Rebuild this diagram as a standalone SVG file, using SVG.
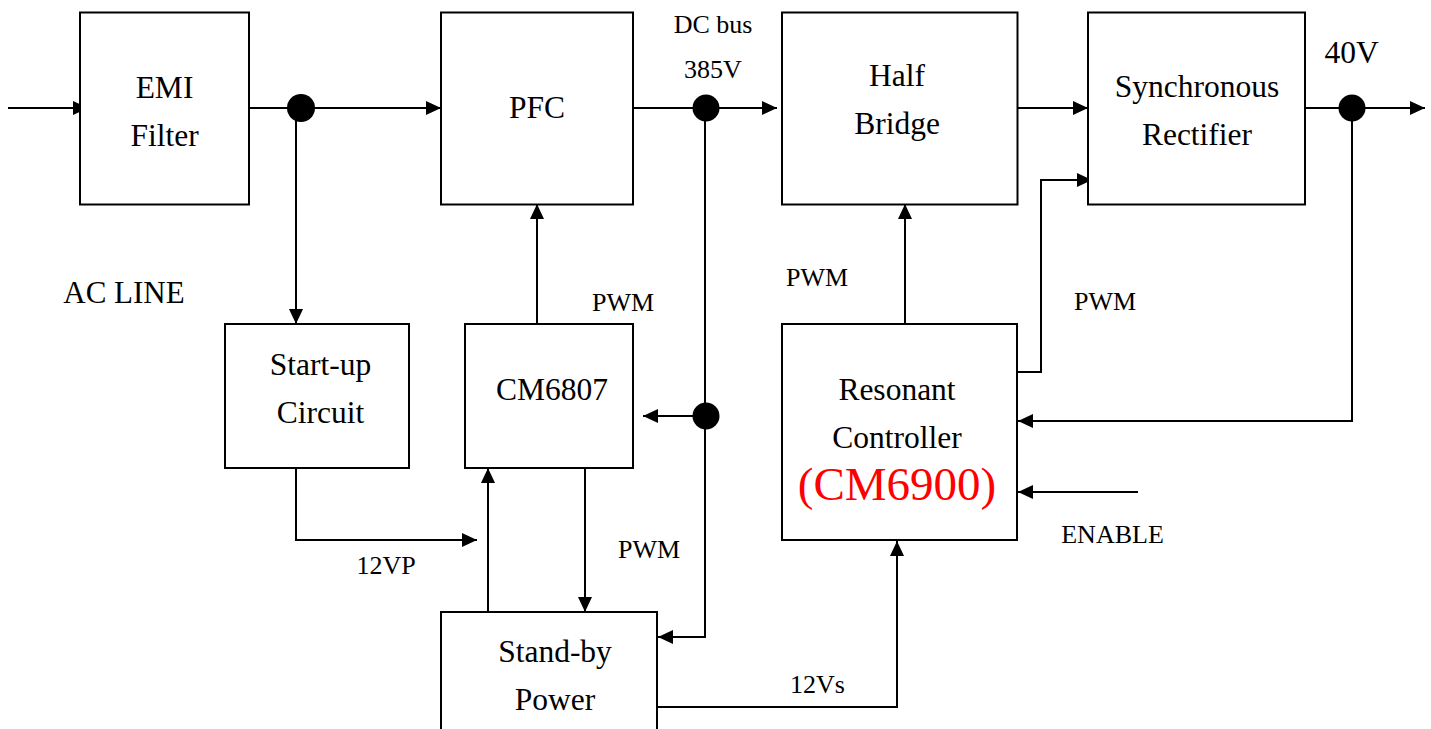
<svg xmlns="http://www.w3.org/2000/svg" width="1431" height="729" viewBox="0 0 1431 729">
<style>
.box{fill:#fff;stroke:#000;stroke-width:2}
.ln{fill:none;stroke:#000;stroke-width:2;marker-end:url(#ah)}
.pl{fill:none;stroke:#000;stroke-width:2}
.t{font-family:"Liberation Serif","Times New Roman",serif;font-size:31.5px;fill:#000;text-anchor:middle}
.s{font-family:"Liberation Serif","Times New Roman",serif;font-size:26px;fill:#000;text-anchor:middle}
.red{font-family:"Liberation Serif","Times New Roman",serif;font-size:47px;fill:#ff0000;text-anchor:middle}
</style>
<defs>
<marker id="ah" markerUnits="userSpaceOnUse" markerWidth="15" markerHeight="14" refX="15" refY="7" orient="auto" viewBox="0 0 15 14">
<path d="M0,0 L15,7 L0,14 z" fill="#000"/>
</marker>
</defs>
<rect width="1431" height="729" fill="#fff"/>
<g id="connectors">
<path class="ln" d="M8,108 H88"/>
<path class="ln" d="M249,108 H441"/>
<path class="ln" d="M296,108 V324"/>
<path class="ln" d="M633,108 H777"/>
<path class="ln" d="M1017,108 H1088"/>
<path class="ln" d="M1305,108 H1425"/>
<path class="ln" d="M1352,108 V421 H1018"/>
<path class="ln" d="M1017,372 H1041 V180 H1092"/>
<path class="ln" d="M905,329 V204"/>
<path class="ln" d="M537,324 V204"/>
<path class="ln" d="M705,108 V637 H658"/>
<path class="ln" d="M706,416 H643"/>
<path class="ln" d="M296,468 V540 H477"/>
<path class="ln" d="M488,612 V468"/>
<path class="ln" d="M585,468 V612"/>
<path class="ln" d="M657,707 H897 V541"/>
<path class="ln" d="M1138,492 H1018"/>
<circle cx="301" cy="108" r="14" fill="#000"/>
<circle cx="706" cy="108" r="13.5" fill="#000"/>
<circle cx="1352" cy="108" r="13.5" fill="#000"/>
<circle cx="706" cy="416" r="13.5" fill="#000"/>
</g>
<g id="emi"><rect class="box" x="80" y="12.5" width="169" height="192"/><text class="t" x="164.5" y="97.5">EMI</text><text class="t" x="164.5" y="145.5">Filter</text></g>
<g id="pfc"><rect class="box" x="441" y="12.5" width="192" height="192"/><text class="t" x="537" y="118">PFC</text></g>
<g id="halfbridge"><rect class="box" x="782" y="12.5" width="235.5" height="192"/><text class="t" x="897" y="86">Half</text><text class="t" x="897" y="134">Bridge</text></g>
<g id="syncrect"><rect class="box" x="1088" y="12.5" width="217" height="192"/><text class="t" x="1197" y="97">Synchronous</text><text class="t" x="1197" y="145">Rectifier</text></g>
<g id="startup"><rect class="box" x="225" y="324" width="184" height="144"/><text class="t" x="320.5" y="375">Start-up</text><text class="t" x="320.5" y="423">Circuit</text></g>
<g id="cm6807"><rect class="box" x="465" y="324" width="168" height="144"/><text class="t" x="552" y="400">CM6807</text></g>
<g id="resonant"><rect class="box" x="782" y="324" width="235" height="216"/><text class="t" x="897" y="400">Resonant</text><text class="t" x="897" y="448">Controller</text><text class="red" x="897" y="500">(CM6900)</text></g>
<g id="standby"><rect class="box" x="441" y="612" width="216" height="140"/><text class="t" x="555" y="662">Stand-by</text><text class="t" x="555" y="710">Power</text></g>
<g id="labels">
<text class="s" x="713" y="33">DC bus</text>
<text class="s" x="713" y="78">385V</text>
<text class="t" x="1351.5" y="63">40V</text>
<text class="t" x="124" y="303" style="font-size:31px">AC LINE</text>
<text class="s" x="623" y="311">PWM</text>
<text class="s" x="817" y="286">PWM</text>
<text class="s" x="1105" y="310">PWM</text>
<text class="s" x="649" y="558">PWM</text>
<text class="s" x="386" y="574">12VP</text>
<text class="s" x="817.5" y="693">12Vs</text>
<text class="s" x="1112.5" y="543">ENABLE</text>
</g>
</svg>
